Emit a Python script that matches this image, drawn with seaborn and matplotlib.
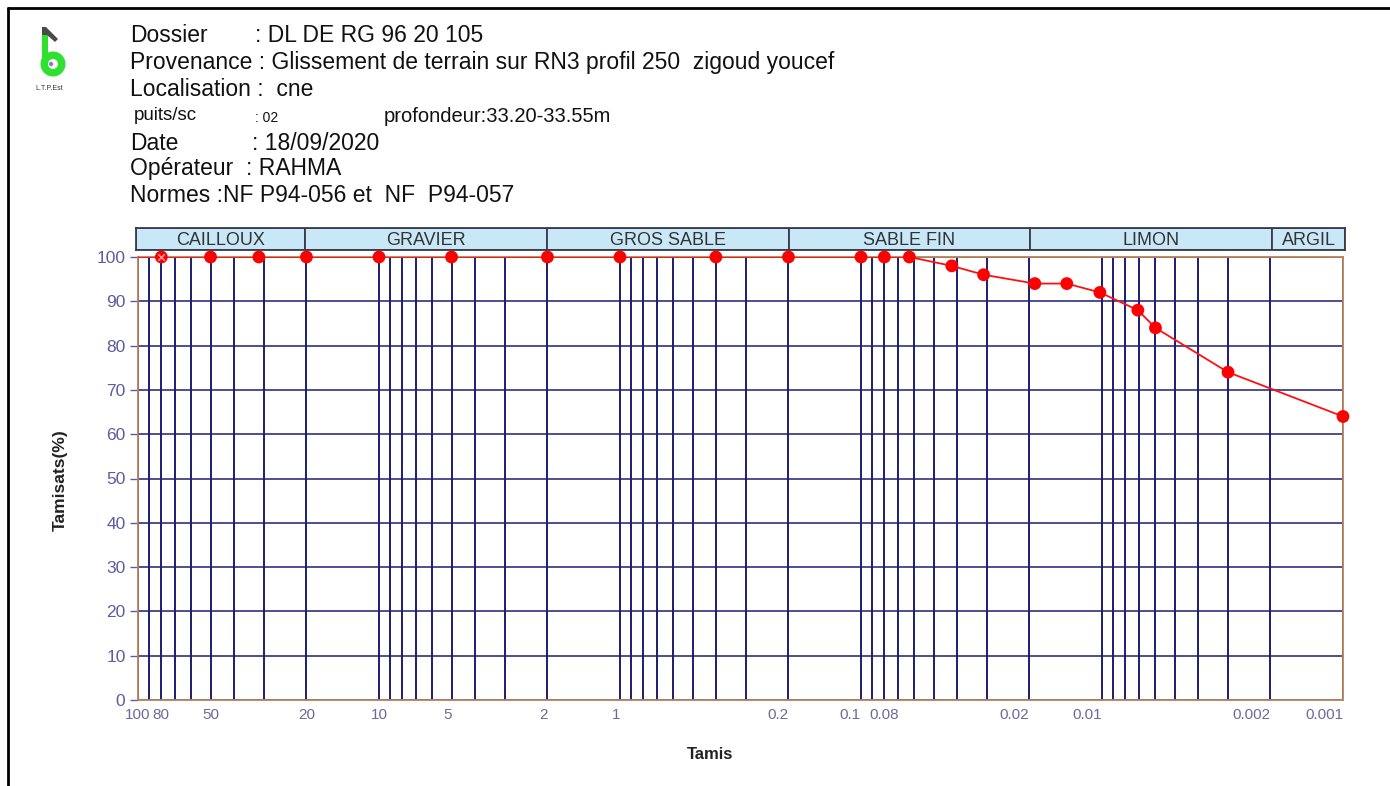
import numpy as np
import pandas as pd
import seaborn as sns
import matplotlib.pyplot as plt
from matplotlib.lines import Line2D
from matplotlib.patches import Wedge, Rectangle, Polygon

# Sieve sizes (mm) and passing percentages
tamis = [100, 80, 50, 31.5, 20, 10, 5, 2, 1, 0.4, 0.2, 0.1, 0.08, 0.063,
         0.042, 0.031, 0.019, 0.014, 0.0102, 0.0071, 0.0060, 0.0030, 0.0010]
tamisats = [100, 100, 100, 100, 100, 100, 100, 100, 100, 100, 100, 100, 100, 100,
            98, 96, 94, 94, 92, 88, 84, 74, 64]

# Soil classes band
zone_names = ['CAILLOUX', 'GRAVIER', 'GROS SABLE', 'SABLE FIN', 'LIMON', 'ARGIL']
zone_bounds = [100, 20, 2, 0.2, 0.02, 0.002, 0.001]

# X tick labels shown under the axis
x_labels = [100, 80, 50, 20, 10, 5, 2, 1, 0.2, 0.1, 0.08, 0.02, 0.01, 0.002, 0.001]
right_aligned = [5, 2, 1, 0.2, 0.1, 0.02, 0.01, 0.002, 0.001]
y_ticks = list(range(0, 101, 10))

sns.set_theme(style='white')
plt.rcParams['font.family'] = ['Liberation Sans', 'DejaVu Sans']

W, H = 1390, 786
fig = plt.figure(figsize=(W / 100, H / 100), dpi=100)
fig.patch.set_facecolor('white')


def fx(x):
    return x / W


def fy(y):
    return 1 - y / H


navy = '#1c1c74'
tan = '#b5835a'
tick_col = '#5c5ca0'

ax = fig.add_axes([fx(138), fy(700), fx(1343) - fx(138), fy(257) - fy(700)])
ax.set_xscale('log')
ax.set_xlim(100, 0.001)
ax.set_ylim(0, 100)

# grid: every 1..9 x 10^k
grid_x = [m * 10.0 ** k for k in range(-3, 2) for m in range(1, 10)] + [100]
for gx in grid_x:
    ax.axvline(gx, color=navy, lw=1.4, zorder=1)
for gy in y_ticks:
    ax.axhline(gy, color=navy, lw=1.1, zorder=1)

df = pd.DataFrame({'tamis': tamis, 'tamisats': tamisats})
sns.lineplot(data=df, x='tamis', y='tamisats', color='#ff1010', lw=1.3,
             sort=False, estimator=None, ax=ax, zorder=3)
pts = df.iloc[1:]
sns.scatterplot(data=pts, x='tamis', y='tamisats', color='#ff0000', s=85,
                edgecolor='none', ax=ax, zorder=4, clip_on=False)
sns.scatterplot(data=pts.iloc[:1], x='tamis', y='tamisats', marker='x',
                color='#ff9a9a', s=22, linewidth=1.1, ax=ax, zorder=5, clip_on=False)

ax.set_xticks(x_labels)
ax.set_xticklabels([f'{v:g}' for v in x_labels])
for v, lab in zip(x_labels, ax.get_xticklabels()):
    if v in right_aligned:
        lab.set_ha('right')
ax.xaxis.set_minor_locator(plt.NullLocator())
ax.set_yticks(y_ticks)
ax.tick_params(axis='x', length=0, pad=6, labelsize=11, labelcolor='#6a6a9c')
ax.tick_params(axis='y', length=6, width=1, color=tick_col, left=True, pad=3,
               labelsize=12.5, labelcolor=tick_col)
for sp in ax.spines.values():
    sp.set_color(tan)
    sp.set_linewidth(1.3)
ax.set_xlabel('Tamis', fontsize=12, fontweight='bold', color='#222222')
ax.set_ylabel('Tamisats(%)', fontsize=12.5, fontweight='bold', color='#222222')
ax.xaxis.set_label_coords(0.475, -0.106)
ax.yaxis.set_label_coords(-0.058, 0.497)

# soil class band above the plot
axb = fig.add_axes([fx(136), fy(250), fx(1345) - fx(136), fy(228) - fy(250)])
axb.set_xscale('log')
axb.set_xlim(100, 0.001)
axb.set_ylim(0, 1)
for i, name in enumerate(zone_names):
    lo, hi = zone_bounds[i], zone_bounds[i + 1]
    axb.axvspan(lo, hi, 0, 1, facecolor='#c8e8f8', edgecolor='#3a3a4a', lw=1.3)
    axb.text(np.sqrt(lo * hi), 0.45, name, ha='center', va='center',
             fontsize=13, color='#333333')
axb.set_xticks([])
axb.set_yticks([])
for sp in axb.spines.values():
    sp.set_color('#3a3a4a')
    sp.set_linewidth(1.3)

# header text
hdr = dict(fontsize=16.5, color='#111111', va='center')
fig.text(fx(130), fy(36), 'Dossier', **hdr)
fig.text(fx(255), fy(36), ': DL DE RG 96 20 105', **hdr)
fig.text(fx(130), fy(63), 'Provenance : Glissement de terrain sur RN3 profil 250  zigoud youcef', **hdr)
fig.text(fx(130), fy(90), 'Localisation :  cne', **hdr)
fig.text(fx(134), fy(116), 'puits/sc', fontsize=13.5, color='#111111', va='center')
fig.text(fx(255), fy(118), ': 02', fontsize=10, color='#111111', va='center')
fig.text(fx(384), fy(117), 'profondeur:33.20-33.55m', fontsize=14.5, color='#111111', va='center')
fig.text(fx(130), fy(143), 'Date', **hdr)
fig.text(fx(252), fy(143), ': 18/09/2020', **hdr)
fig.text(fx(130), fy(169), 'Opérateur  : RAHMA', **hdr)
fig.text(fx(130), fy(196), 'Normes :NF P94-056 et  NF  P94-057', **hdr)

# page frame (top and left edges)
fig.add_artist(Line2D([fx(8), 1], [fy(8), fy(8)], color='black', lw=2))
fig.add_artist(Line2D([fx(8), fx(8)], [0, fy(8)], color='black', lw=2))

# small logo, drawn in a pixel-unit inset
axl = fig.add_axes([fx(20), fy(100), 60 / W, 80 / H])
axl.set_xlim(20, 80)
axl.set_ylim(100, 20)
axl.axis('off')
green = '#2fe02f'
axl.add_patch(Wedge((53, 64), 12.5, 0, 360, width=7.5, facecolor=green, edgecolor='none'))
axl.add_patch(Rectangle((41.5, 33), 6.5, 31, facecolor=green, edgecolor='none'))
axl.add_patch(Polygon([(42, 27), (46, 27), (58, 39), (55, 42), (47, 35), (42, 35)],
                      closed=True, facecolor='#4a4a4a', edgecolor='none'))
axl.add_patch(Wedge((51, 64), 2.2, 0, 360, facecolor='#9a7ab0', edgecolor='none'))
axl.text(49, 88, 'L.T.P.Est', fontsize=5, ha='center', va='center', color='#333333')

fig.savefig('out.png', dpi=100)
